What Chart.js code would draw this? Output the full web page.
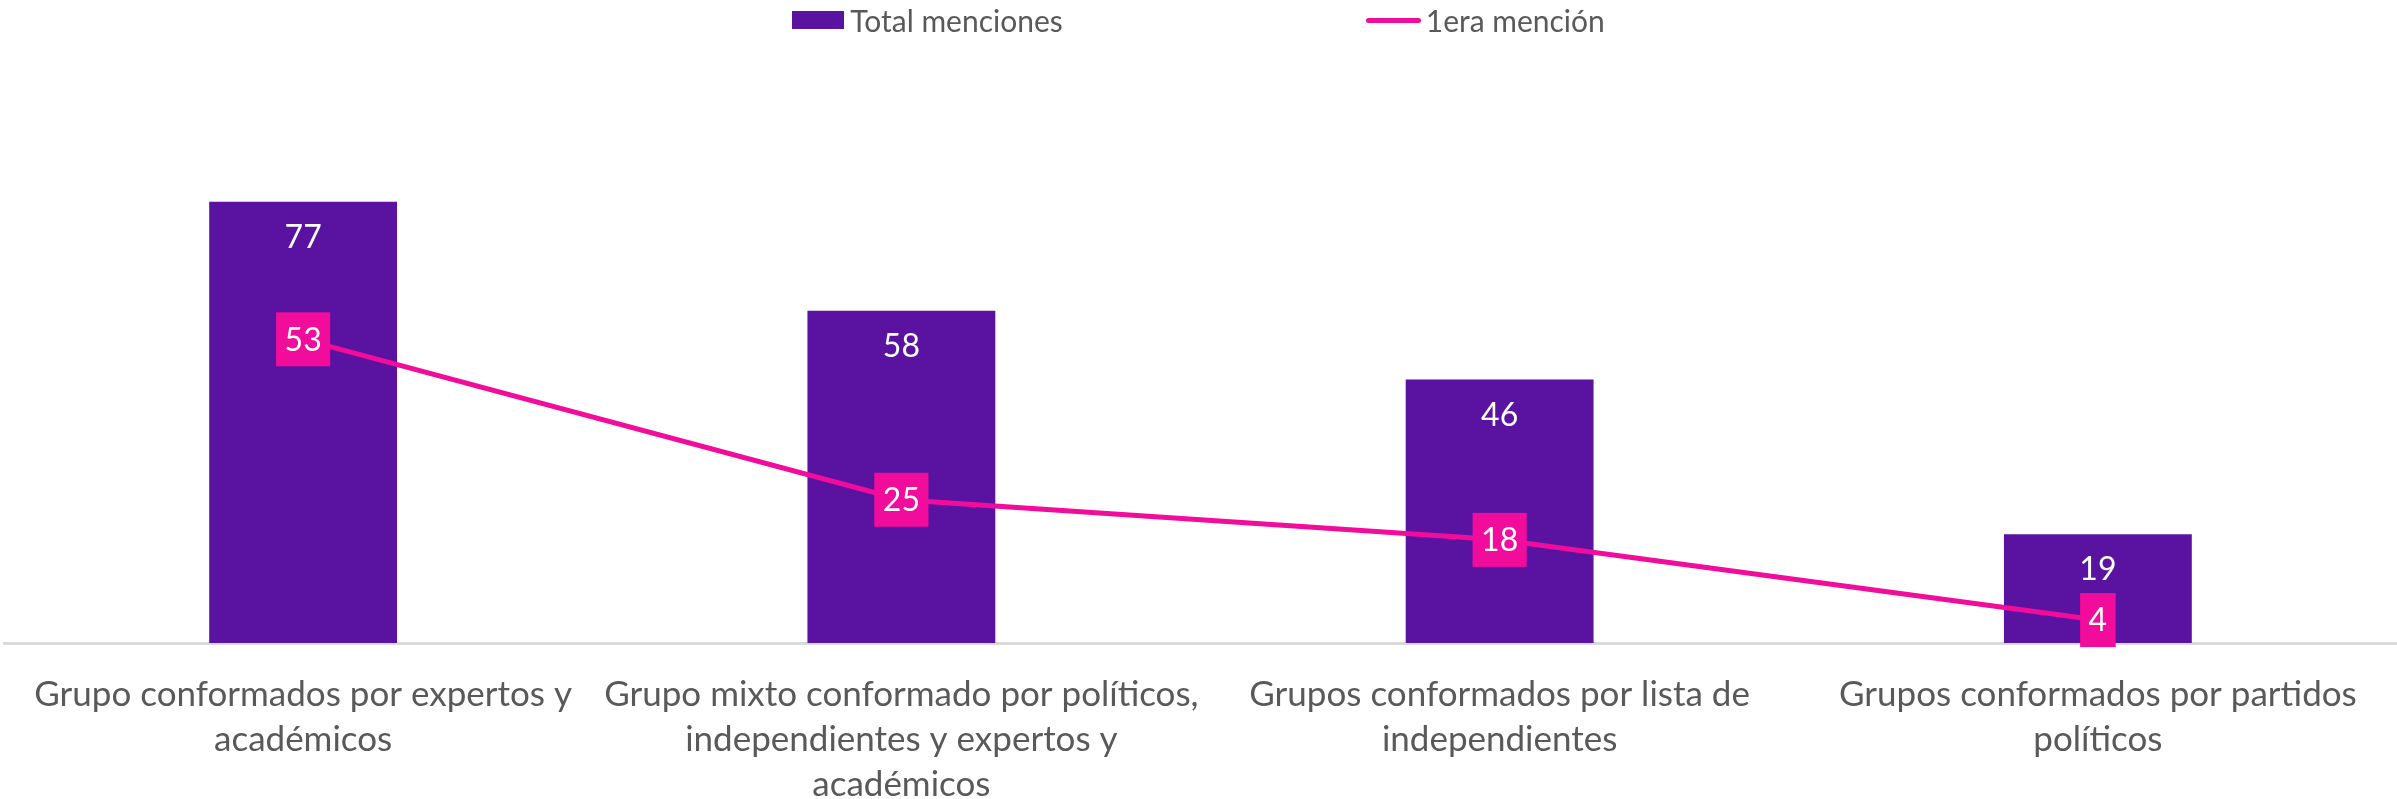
<!DOCTYPE html>
<html>
<head>
<meta charset="utf-8">
<script src="https://cdn.jsdelivr.net/npm/chart.js@4.4.1/dist/chart.umd.min.js"></script>
<style>
    html, body { margin: 0; padding: 0; background: #fff; }
    #wrap { position: relative; width: 2397px; height: 799px; }
    #legend {
        position: absolute; top: 0; left: 0; width: 2397px; height: 40px;
        display: flex; justify-content: center; align-items: center; gap: 303px;
        font-family: Lato, sans-serif; font-size: 30px; color: #595959;
    }
    .item { display: flex; align-items: center; }
    .swatch { width: 52px; height: 18px; background: #5A12A0; margin-right: 6px; }
    .dash { width: 55px; height: 5px; border-radius: 3px; background: #F20C9C; margin-right: 5px; }
</style>
</head>
<body>
<div id="wrap">
    <canvas id="chart" width="2397" height="799"></canvas>
    <div id="legend"></div>
</div>
<script>
const categories = [
    ["Grupo conformados por expertos y", "académicos"],
    ["Grupo mixto conformado por políticos,", "independientes y expertos y", "académicos"],
    ["Grupos conformados por lista de", "independientes"],
    ["Grupos conformados por partidos", "políticos"]
];
const totalMenciones = [77, 58, 46, 19];
const primeraMencion = [53, 25, 18, 4];
const yMax = 100;

const purple = '#5A12A0';
const pink = '#F20C9C';
const grey = '#595959';
const fontFamily = 'Lato, sans-serif';

// html legend, spacing like the original
document.getElementById('legend').innerHTML =
    '<div class="item"><span class="swatch"></span><span>Total menciones</span></div>' +
    '<div class="item"><span class="dash"></span><span>1era mención</span></div>';

const valueLabels = {
    id: 'valueLabels',
    afterDatasetsDraw(chart) {
        const ctx = chart.ctx;
        ctx.save();
        ctx.font = '32px ' + fontFamily;
        ctx.textAlign = 'center';
        ctx.textBaseline = 'middle';

        chart.getDatasetMeta(1).data.forEach((bar, i) => {
            ctx.fillStyle = '#fff';
            ctx.fillText(totalMenciones[i], bar.x, bar.y + 36);
        });

        chart.getDatasetMeta(0).data.forEach((pt, i) => {
            const txt = String(primeraMencion[i]);
            const w = ctx.measureText(txt).width + 17;
            ctx.fillStyle = pink;
            ctx.fillRect(pt.x - w / 2, pt.y - 27, w, 54);
            ctx.fillStyle = '#fff';
            ctx.fillText(txt, pt.x, pt.y + 1);
        });
        ctx.restore();
    }
};

new Chart(document.getElementById('chart'), {
    type: 'bar',
    data: {
        labels: categories,
        datasets: [
            {
                type: 'line',
                label: '1era mención',
                data: primeraMencion,
                borderColor: pink,
                backgroundColor: pink,
                borderWidth: 5,
                pointRadius: 0,
                tension: 0,
                order: 0
            },
            {
                label: 'Total menciones',
                data: totalMenciones,
                backgroundColor: purple,
                barPercentage: 0.314,
                categoryPercentage: 1,
                order: 1
            }
        ]
    },
    options: {
        responsive: false,
        animation: false,
        layout: { padding: { top: 70, left: 4, right: 0, bottom: 0 } },
        plugins: {
            legend: { display: false },
            tooltip: { enabled: false }
        },
        scales: {
            x: {
                grid: { display: false },
                border: { display: true, color: '#D9D9D9', width: 3 },
                ticks: {
                    color: grey,
                    padding: 21,
                    maxRotation: 0,
                    autoSkip: false,
                    font: { family: fontFamily, size: 35, lineHeight: 45 / 35 }
                },
                afterFit(scale) { scale.height = 156; }
            },
            y: {
                display: false,
                min: 0,
                max: yMax
            }
        }
    },
    plugins: [valueLabels]
});
</script>
</body>
</html>
